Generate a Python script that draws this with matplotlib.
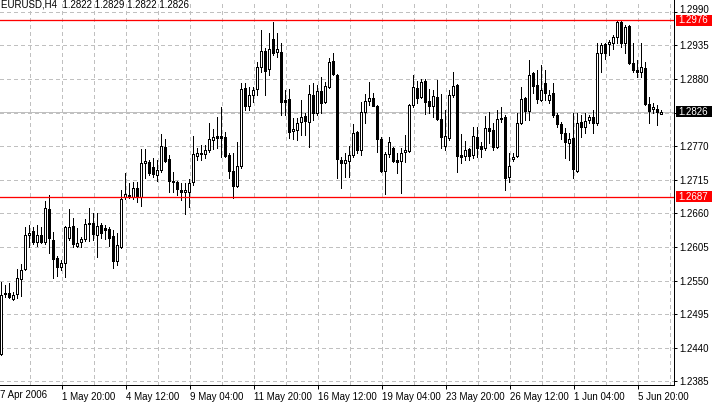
import matplotlib
matplotlib.use("Agg")
import matplotlib.pyplot as plt
from matplotlib.patches import Rectangle
from matplotlib.transforms import ScaledTranslation
import numpy as np

chart_title = "EURUSD,H4  1.2822 1.2829 1.2822 1.2826"

opens = [1.2430, 1.2528, 1.2530, 1.2520, 1.2528, 1.2552, 1.2569, 1.2625, 1.2631, 1.2613,
         1.2625, 1.2613, 1.2667, 1.2616, 1.2587, 1.2572, 1.2579, 1.2620, 1.2639, 1.2607,
         1.2613, 1.2618, 1.2642, 1.2644, 1.2625, 1.2641, 1.2636, 1.2634, 1.2623, 1.2582,
         1.2605, 1.2687, 1.2690, 1.2687, 1.2701, 1.2687, 1.2742, 1.2744, 1.2736, 1.2723,
         1.2731, 1.2769, 1.2749, 1.2713, 1.2711, 1.2698, 1.2695, 1.2695, 1.2711, 1.2754,
         1.2759, 1.2757, 1.2764, 1.2780, 1.2787, 1.2787, 1.2785, 1.2755, 1.2729, 1.2705,
         1.2738, 1.2865, 1.2836, 1.2854, 1.2863, 1.2899, 1.2926, 1.2896, 1.2945, 1.2924,
         1.2924, 1.2845, 1.2847, 1.2795, 1.2796, 1.2809, 1.2819, 1.2809, 1.2854, 1.2824,
         1.2860, 1.2842, 1.2867, 1.2909, 1.2886, 1.2747, 1.2742, 1.2746, 1.2755, 1.2793,
         1.2764, 1.2826, 1.2844, 1.2849, 1.2836, 1.2782, 1.2729, 1.2757, 1.2767, 1.2747,
         1.2746, 1.2760, 1.2762, 1.2837, 1.2865, 1.2850, 1.2877, 1.2844, 1.2836, 1.2850,
         1.2814, 1.2770, 1.2783, 1.2854, 1.2870, 1.2755, 1.2754, 1.2765, 1.2755, 1.2785,
         1.2770, 1.2767, 1.2800, 1.2796, 1.2769, 1.2814, 1.2818, 1.2719, 1.2749, 1.2754,
         1.2808, 1.2849, 1.2827, 1.2890, 1.2870, 1.2846, 1.2873, 1.2846, 1.2857, 1.2821,
         1.2806, 1.2792, 1.2775, 1.2783, 1.2729, 1.2809, 1.2801, 1.2813, 1.2818, 1.2808,
         1.2922, 1.2937, 1.2937, 1.2939, 1.2949, 1.2973, 1.2939, 1.2967, 1.2906, 1.2895,
         1.2891, 1.2898, 1.2839, 1.2831, 1.2831, 1.2822]

highs = [1.2548, 1.2543, 1.2546, 1.2531, 1.2569, 1.2577, 1.2638, 1.2641, 1.2638, 1.2641,
         1.2638, 1.2680, 1.2690, 1.2629, 1.2590, 1.2584, 1.2639, 1.2667, 1.2652, 1.2636,
         1.2621, 1.2651, 1.2669, 1.2661, 1.2661, 1.2644, 1.2641, 1.2638, 1.2633, 1.2628,
         1.2698, 1.2726, 1.2710, 1.2711, 1.2711, 1.2765, 1.2765, 1.2747, 1.2751, 1.2747,
         1.2790, 1.2782, 1.2755, 1.2728, 1.2713, 1.2710, 1.2710, 1.2716, 1.2787, 1.2767,
         1.2772, 1.2772, 1.2808, 1.2798, 1.2818, 1.2834, 1.2793, 1.2759, 1.2759, 1.2777,
         1.2873, 1.2873, 1.2867, 1.2867, 1.2908, 1.2960, 1.2931, 1.2955, 1.2973, 1.2955,
         1.2939, 1.2862, 1.2863, 1.2816, 1.2816, 1.2846, 1.2824, 1.2870, 1.2873, 1.2870,
         1.2883, 1.2875, 1.2914, 1.2922, 1.2888, 1.2752, 1.2759, 1.2770, 1.2806, 1.2795,
         1.2842, 1.2855, 1.2875, 1.2857, 1.2837, 1.2785, 1.2760, 1.2785, 1.2769, 1.2759,
         1.2767, 1.2788, 1.2839, 1.2886, 1.2877, 1.2880, 1.2880, 1.2863, 1.2862, 1.2878,
         1.2855, 1.2829, 1.2862, 1.2891, 1.2872, 1.2790, 1.2778, 1.2767, 1.2801, 1.2801,
         1.2777, 1.2819, 1.2826, 1.2808, 1.2829, 1.2834, 1.2821, 1.2759, 1.2759, 1.2824,
         1.2867, 1.2850, 1.2911, 1.2891, 1.2895, 1.2903, 1.2895, 1.2862, 1.2873, 1.2824,
         1.2809, 1.2800, 1.2792, 1.2824, 1.2824, 1.2821, 1.2824, 1.2821, 1.2829, 1.2939,
         1.2939, 1.2939, 1.2944, 1.2952, 1.2976, 1.2976, 1.2968, 1.2968, 1.2939, 1.2911,
         1.2939, 1.2907, 1.2850, 1.2841, 1.2837, 1.2829]

lows = [1.2428, 1.2523, 1.2521, 1.2518, 1.2521, 1.2525, 1.2567, 1.2605, 1.2610, 1.2607,
        1.2611, 1.2610, 1.2595, 1.2554, 1.2557, 1.2567, 1.2556, 1.2616, 1.2605, 1.2605,
        1.2605, 1.2615, 1.2615, 1.2616, 1.2588, 1.2620, 1.2618, 1.2607, 1.2570, 1.2575,
        1.2603, 1.2683, 1.2685, 1.2683, 1.2679, 1.2672, 1.2718, 1.2723, 1.2719, 1.2713,
        1.2728, 1.2744, 1.2695, 1.2695, 1.2690, 1.2682, 1.2659, 1.2670, 1.2706, 1.2747,
        1.2747, 1.2751, 1.2760, 1.2765, 1.2767, 1.2752, 1.2752, 1.2718, 1.2685, 1.2703,
        1.2734, 1.2829, 1.2829, 1.2842, 1.2854, 1.2891, 1.2854, 1.2886, 1.2919, 1.2916,
        1.2821, 1.2821, 1.2783, 1.2782, 1.2780, 1.2788, 1.2788, 1.2769, 1.2813, 1.2821,
        1.2824, 1.2841, 1.2865, 1.2886, 1.2718, 1.2701, 1.2719, 1.2719, 1.2752, 1.2759,
        1.2755, 1.2808, 1.2837, 1.2836, 1.2760, 1.2728, 1.2692, 1.2752, 1.2744, 1.2726,
        1.2693, 1.2744, 1.2760, 1.2834, 1.2841, 1.2849, 1.2823, 1.2824, 1.2818, 1.2813,
        1.2767, 1.2764, 1.2780, 1.2850, 1.2728, 1.2742, 1.2747, 1.2747, 1.2751, 1.2752,
        1.2752, 1.2764, 1.2775, 1.2764, 1.2767, 1.2809, 1.2698, 1.2711, 1.2746, 1.2752,
        1.2806, 1.2813, 1.2813, 1.2857, 1.2841, 1.2844, 1.2846, 1.2841, 1.2818, 1.2801,
        1.2782, 1.2751, 1.2747, 1.2718, 1.2728, 1.2785, 1.2792, 1.2808, 1.2792, 1.2804,
        1.2891, 1.2912, 1.2919, 1.2929, 1.2939, 1.2932, 1.2922, 1.2905, 1.2891, 1.2883,
        1.2883, 1.2838, 1.2808, 1.2824, 1.2805, 1.2822]

closes = [1.2526, 1.2530, 1.2523, 1.2526, 1.2554, 1.2567, 1.2625, 1.2628, 1.2613, 1.2625,
          1.2613, 1.2669, 1.2620, 1.2585, 1.2572, 1.2579, 1.2638, 1.2638, 1.2610, 1.2611,
          1.2618, 1.2642, 1.2644, 1.2626, 1.2639, 1.2628, 1.2633, 1.2620, 1.2582, 1.2608,
          1.2683, 1.2692, 1.2687, 1.2701, 1.2687, 1.2742, 1.2746, 1.2726, 1.2724, 1.2731,
          1.2770, 1.2746, 1.2713, 1.2711, 1.2700, 1.2695, 1.2698, 1.2710, 1.2757, 1.2759,
          1.2757, 1.2764, 1.2782, 1.2785, 1.2783, 1.2783, 1.2754, 1.2729, 1.2705, 1.2738,
          1.2863, 1.2836, 1.2854, 1.2862, 1.2899, 1.2926, 1.2893, 1.2929, 1.2922, 1.2929,
          1.2842, 1.2842, 1.2793, 1.2798, 1.2808, 1.2818, 1.2811, 1.2855, 1.2824, 1.2860,
          1.2841, 1.2868, 1.2908, 1.2888, 1.2749, 1.2742, 1.2747, 1.2755, 1.2792, 1.2764,
          1.2826, 1.2844, 1.2849, 1.2836, 1.2782, 1.2729, 1.2757, 1.2777, 1.2746, 1.2744,
          1.2759, 1.2764, 1.2837, 1.2867, 1.2849, 1.2875, 1.2842, 1.2836, 1.2852, 1.2814,
          1.2785, 1.2787, 1.2854, 1.2868, 1.2754, 1.2752, 1.2764, 1.2754, 1.2787, 1.2767,
          1.2765, 1.2800, 1.2795, 1.2769, 1.2814, 1.2816, 1.2718, 1.2738, 1.2752, 1.2808,
          1.2847, 1.2827, 1.2886, 1.2868, 1.2847, 1.2862, 1.2857, 1.2854, 1.2821, 1.2806,
          1.2792, 1.2777, 1.2782, 1.2733, 1.2808, 1.2801, 1.2811, 1.2818, 1.2808, 1.2922,
          1.2936, 1.2922, 1.2940, 1.2949, 1.2973, 1.2939, 1.2965, 1.2906, 1.2895, 1.2891,
          1.2899, 1.2839, 1.2828, 1.2834, 1.2826, 1.2826]

time_labels = ["1 May 20:00", "4 May 12:00", "9 May 04:00", "11 May 20:00", "16 May 12:00",
               "19 May 04:00", "23 May 20:00", "26 May 12:00", "1 Jun 04:00", "5 Jun 20:00"]
time_label_bars = [15, 31, 47, 63, 79, 95, 111, 127, 143, 159]
first_label = "7 Apr 2006"
grid_bars = [7, 15, 23, 31, 39, 47, 55, 63, 71, 79, 87, 95, 103, 111, 119, 127, 135, 143,
             151, 159, 167]

price_ticks = [1.2990, 1.2935, 1.2880, 1.2825, 1.2770, 1.2715, 1.2660, 1.2605, 1.2550,
               1.2495, 1.2440, 1.2385]
price_labels = ["1.2990", "1.2935", "1.2880", "", "1.2770", "1.2715", "1.2660", "1.2605",
                "1.2550", "1.2495", "1.2440", "1.2385"]

resistance = 1.2976
support = 1.2687
last_price = 1.2826

FONT = "Liberation Sans"
FS = 7.0
PX = 0.72  # one pixel in points at dpi 100
GRID = "#c0c0c0"

W, H = 712, 403
fig = plt.figure(figsize=(W / 100, H / 100), dpi=100)
fig.patch.set_facecolor("white")
ax_right = 673.5
ax_bottom = 384.5
ax = fig.add_axes([0, 1 - ax_bottom / H, ax_right / W, ax_bottom / H])
ax.set_facecolor("white")

ax.set_xlim(-0.25, 168.125)
ax.set_ylim(1.23798, 1.30092)

# grid
for p in price_ticks:
    ax.axhline(p, color=GRID, lw=PX, ls=(0, (3, 3)), zorder=0.5, antialiased=False)
for b in grid_bars:
    ax.axvline(b + 0.125, color=GRID, lw=PX, ls=(0, (3, 3)), zorder=0.5, antialiased=False)

# last price line
ax.axhline(last_price, color=GRID, lw=PX, zorder=0.8, antialiased=False)

# candles
n = len(opens)
xs = np.arange(n)
ax.vlines(xs, lows, highs, color="black", lw=PX, zorder=2, antialiased=False)
for i in range(n):
    o, c = opens[i], closes[i]
    bottom = min(o, c)
    height = abs(c - o)
    face = "white" if c >= o else "black"
    if height < 1e-9:
        ax.hlines(o, i - 0.375, i + 0.375, color="black", lw=PX, zorder=3, antialiased=False)
    else:
        ax.add_patch(Rectangle((i - 0.25, bottom), 0.5, height, facecolor=face,
                               edgecolor="black", lw=PX, zorder=3, antialiased=False))

# support / resistance lines
ax.axhline(resistance, color="#ff0000", lw=PX * 1.3, zorder=4, snap=True)
ax.axhline(support, color="#ff0000", lw=PX * 1.3, zorder=4, snap=True)

# spines
for s in ["left", "top"]:
    ax.spines[s].set_visible(False)
for s in ["right", "bottom"]:
    ax.spines[s].set_color("black")
    ax.spines[s].set_linewidth(PX)

# y axis on right
ax.yaxis.tick_right()
ax.set_yticks(price_ticks)
ax.set_yticklabels(price_labels, fontfamily=FONT, fontsize=FS)
ax.tick_params(axis="y", direction="out", length=3 * PX, width=PX, pad=2, colors="black")
# top label sits slightly higher, as in the reference
top_lbl = ax.get_yticklabels()[0]
top_lbl.set_transform(top_lbl.get_transform() + ScaledTranslation(0, 2.5 / 100, fig.dpi_scale_trans))

# x axis
ax.set_xticks([b + 0.125 for b in time_label_bars])
ax.set_xticklabels(time_labels, fontfamily=FONT, fontsize=FS, ha="left")
ax.tick_params(axis="x", direction="out", length=4 * PX, width=PX, pad=2.5, colors="black")
ax.text(-0.25, -10.5 / ax_bottom, first_label, transform=ax.get_xaxis_transform(),
        fontfamily=FONT, fontsize=FS, ha="left", va="center", clip_on=False)

# price boxes on the axis
yt = ax.get_yaxis_transform()
box_h = 0.0018
for price, col in [(resistance, "#ff0000"), (last_price, "black"), (support, "#ff0000")]:
    ax.add_patch(Rectangle((676 / ax_right, price - box_h / 2), (W - 676) / ax_right, box_h,
                           transform=yt, facecolor=col, edgecolor="none", clip_on=False,
                           zorder=5))
    ax.text(678 / ax_right, price, f"{price:.4f}", transform=yt, color="white",
            fontfamily=FONT, fontsize=FS, ha="left", va="center", clip_on=False, zorder=6)

# title
ax.text(1 / ax_right, 1 - 4.5 / ax_bottom, chart_title, transform=ax.transAxes,
        fontfamily=FONT, fontsize=FS, ha="left", va="center", zorder=6)

fig.savefig("out.png", dpi=100, facecolor="white")
